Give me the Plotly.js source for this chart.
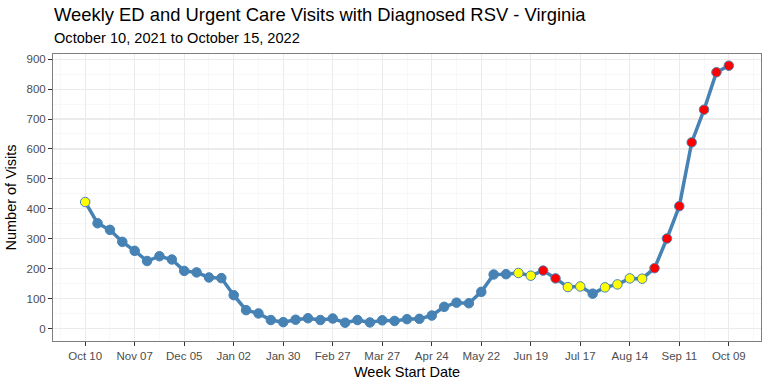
<!DOCTYPE html>
<html>
<head>
<meta charset="utf-8">
<script src="https://cdn.plot.ly/plotly-3.0.1.min.js"></script>
<style>
  html, body { margin: 0; padding: 0; background: #fff; }
  #chart { width: 768px; height: 384px; }
</style>
</head>
<body>
<div id="chart"></div>
<script>
// Week start dates
var weekStart = [
  "2021-10-10","2021-10-17","2021-10-24","2021-10-31",
  "2021-11-07","2021-11-14","2021-11-21","2021-11-28",
  "2021-12-05","2021-12-12","2021-12-19","2021-12-26",
  "2022-01-02","2022-01-09","2022-01-16","2022-01-23","2022-01-30",
  "2022-02-06","2022-02-13","2022-02-20","2022-02-27",
  "2022-03-06","2022-03-13","2022-03-20","2022-03-27",
  "2022-04-03","2022-04-10","2022-04-17","2022-04-24",
  "2022-05-01","2022-05-08","2022-05-15","2022-05-22","2022-05-29",
  "2022-06-05","2022-06-12","2022-06-19","2022-06-26",
  "2022-07-03","2022-07-10","2022-07-17","2022-07-24","2022-07-31",
  "2022-08-07","2022-08-14","2022-08-21","2022-08-28",
  "2022-09-04","2022-09-11","2022-09-18","2022-09-25",
  "2022-10-02","2022-10-09"
];

// Number of visits per week
var visits = [
  423, 352, 330, 290,
  260, 226, 242, 231,
  193, 188, 171, 169,
  112, 62, 51, 29, 22,
  30, 35, 29, 34,
  20, 29, 21, 28,
  26, 32, 33, 44,
  73, 87, 85, 123, 181,
  182, 186, 177, 194,
  168, 139, 141, 117, 138,
  148, 168, 167, 202,
  301, 409, 622, 731,
  856, 878
];

// Point flag per week: "normal", "elevated" (yellow), "high" (red)
var flag = [
  "elevated","normal","normal","normal",
  "normal","normal","normal","normal",
  "normal","normal","normal","normal",
  "normal","normal","normal","normal","normal",
  "normal","normal","normal","normal",
  "normal","normal","normal","normal",
  "normal","normal","normal","normal",
  "normal","normal","normal","normal","normal",
  "normal","elevated","elevated","high",
  "high","elevated","elevated","normal","elevated",
  "elevated","elevated","elevated","high",
  "high","high","high","high",
  "high","high"
];

var flagColor = { normal: "#4682B4", elevated: "#FFFF00", high: "#FF0000" };
var lineColor = "#4682B4";
var FONT = "Liberation Sans, Arial, Helvetica, sans-serif";

var DAY = 86400000;
var t0 = new Date(weekStart[0] + "T00:00:00Z").getTime();
var t1 = new Date(weekStart[weekStart.length - 1] + "T00:00:00Z").getTime();
var pad = (t1 - t0) * 0.05;
function iso(ms) { return new Date(ms).toISOString().replace("T", " ").replace("Z", ""); }

var trace = {
  type: "scatter",
  mode: "lines+markers",
  x: weekStart,
  y: visits,
  line: { color: lineColor, width: 3.5 },
  marker: {
    size: 9.5,
    color: flag.map(function (f) { return flagColor[f]; }),
    line: { color: lineColor, width: 1 }
  },
  hoverinfo: "x+y",
  showlegend: false
};

var layout = {
  width: 768,
  height: 384,
  paper_bgcolor: "#ffffff",
  plot_bgcolor: "#ffffff",
  margin: { l: 53, r: 7, t: 54, b: 43, pad: 0 },
  font: { family: FONT, color: "#000000" },
  title: {
    text: "Weekly ED and Urgent Care Visits with Diagnosed RSV - Virginia",
    font: { family: FONT, size: 18.4, color: "#000000" },
    xref: "container", x: 54 / 768, xanchor: "left",
    yref: "container", y: 1 - 15 / 384, yanchor: "middle"
  },
  annotations: [{
    text: "October 10, 2021 to October 15, 2022",
    font: { family: FONT, size: 14.6, color: "#000000" },
    xref: "paper", x: 0, xanchor: "left", xshift: -1,
    yref: "paper", y: 1, yanchor: "middle", yshift: 16,
    showarrow: false
  }],
  xaxis: {
    type: "date",
    range: [iso(t0 - pad), iso(t1 + pad)],
    tick0: weekStart[0],
    dtick: 28 * DAY,
    tickformat: "%b %d",
    ticks: "outside",
    ticklen: 4,
    tickwidth: 1,
    tickcolor: "#333333",
    tickfont: { family: FONT, size: 11.5, color: "#4D4D4D" },
    showgrid: true,
    gridcolor: "#EBEBEB",
    gridwidth: 1.1,
    minor: { dtick: 14 * DAY, tick0: weekStart[0], showgrid: true, gridcolor: "#F3F3F3", gridwidth: 0.6, ticks: "" },
    showline: true,
    linecolor: "#7F7F7F",
    linewidth: 1,
    mirror: true,
    zeroline: false,
    title: { text: "Week Start Date", font: { family: FONT, size: 14.5, color: "#000000" }, standoff: 6 }
  },
  yaxis: {
    range: [-41, 917],
    tick0: 0,
    dtick: 100,
    ticks: "outside",
    ticklen: 4,
    tickwidth: 1,
    tickcolor: "#333333",
    tickfont: { family: FONT, size: 11.5, color: "#4D4D4D" },
    showgrid: true,
    gridcolor: "#EBEBEB",
    gridwidth: 1.1,
    minor: { dtick: 50, tick0: 0, showgrid: true, gridcolor: "#F3F3F3", gridwidth: 0.6, ticks: "" },
    showline: true,
    linecolor: "#7F7F7F",
    linewidth: 1,
    mirror: true,
    zeroline: false,
    title: { text: "Number of Visits", font: { family: FONT, size: 14.5, color: "#000000" }, standoff: 6 }
  }
};

Plotly.newPlot("chart", [trace], layout, { displayModeBar: false, staticPlot: true });
</script>
</body>
</html>
